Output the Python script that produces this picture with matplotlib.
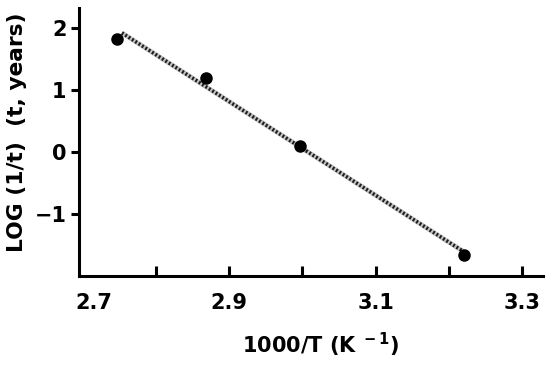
import matplotlib.pyplot as plt
import matplotlib.transforms as mtransforms
from matplotlib.ticker import FixedLocator

plt.rcParams['font.family'] = ['DejaVu Sans']
plt.rcParams['font.weight'] = 'bold'
plt.rcParams['mathtext.fontset'] = 'dejavusans'
plt.rcParams['mathtext.default'] = 'bf'

# data
inv_t = [2.747, 2.869, 2.997, 3.221]
log_rate = [1.82, 1.19, 0.10, -1.66]

# fitted line end points
fit_x = [2.754, 3.219]
fit_y = [1.92, -1.60]

x_labels = ['2.7', '2.9', '3.1', '3.3']
x_major = [2.7, 2.9, 3.1, 3.3]
x_minor = [2.8, 3.0, 3.2]
y_ticks = [-1, 0, 1, 2]
y_labels = ['\u22121', '0', '1', '2']

fig = plt.figure(figsize=(5.5, 3.67), dpi=100)
ax = fig.add_axes([0.1436, 0.248, 0.8434, 0.730])

ax.plot(fit_x, fit_y, color='#c4c4c4', lw=3.4, solid_capstyle='butt', zorder=2)
ax.plot(fit_x, fit_y, color='#1e1e1e', lw=2.6, linestyle=(0, (0.55, 0.55)), zorder=3)
ax.plot(inv_t, log_rate, 'o', color='black', ms=8, zorder=4)

ax.set_xlim(2.6955, 3.328)
ax.set_ylim(-2.0, 2.32)

ax.xaxis.set_major_locator(FixedLocator(x_major))
ax.xaxis.set_minor_locator(FixedLocator(x_minor))
ax.set_xticklabels(x_labels)
ax.set_yticks(y_ticks)
ax.set_yticklabels(y_labels)

for s in ['top', 'right']:
    ax.spines[s].set_visible(False)
for s in ['left', 'bottom']:
    ax.spines[s].set_linewidth(2.2)

ax.tick_params(axis='x', which='both', direction='in', length=7, width=2.2,
               labelsize=15, pad=12)
ax.tick_params(axis='y', direction='out', length=6, width=2.2, labelsize=15, pad=3)
for lab in ax.get_xticklabels() + ax.get_yticklabels():
    lab.set_fontweight('bold')

# the 2.7 label sits a little right of the spine in the original
ax.xaxis.get_major_ticks()[0].tick1line.set_visible(False)
first = ax.get_xticklabels()[0]
first.set_transform(first.get_transform() +
                    mtransforms.ScaledTranslation(12 / 100, 0, fig.dpi_scale_trans))

ax.set_xlabel(r'1000/T (K$^{\ -1}$)', fontsize=15, fontweight='bold')
ax.xaxis.set_label_coords(0.52, -0.205)
ax.set_ylabel('LOG (1/t)  (t, years)', fontsize=15.7, fontweight='bold')
ax.yaxis.set_label_coords(-0.112, 0.535)

fig.savefig('out.png', dpi=100, facecolor='white')
